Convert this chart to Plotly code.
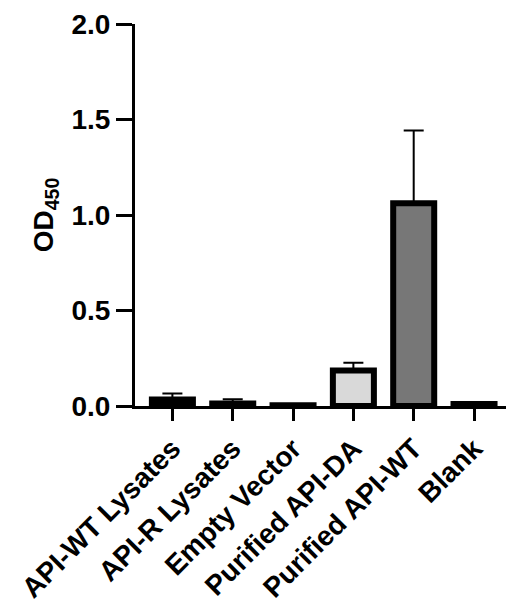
import plotly.graph_objects as go

categories = ["API-WT Lysates", "API-R Lysates", "Empty Vector",
              "Purified API-DA", "Purified API-WT", "Blank"]
od450_mean = [0.034, 0.013, 0.004, 0.186, 1.062, 0.010]
od450_err_up = [0.032, 0.022, 0.003, 0.040, 0.380, 0.002]
bar_colors = ["#000000", "#000000", "#000000", "#d9d9d9", "#777777", "#000000"]
y_tick_vals = [0.0, 0.5, 1.0, 1.5, 2.0]
y_tick_text = ["0.0", "0.5", "1.0", "1.5", "2.0"]

FONT = "Liberation Sans, Arial, Helvetica, sans-serif"

fig = go.Figure()
fig.add_trace(go.Bar(
    x=list(range(len(categories))),
    y=od450_mean,
    width=0.68,
    marker=dict(color=bar_colors, line=dict(color="black", width=6)),
    error_y=dict(type="data", symmetric=False, array=od450_err_up,
                 arrayminus=[0] * len(categories),
                 color="black", thickness=2, width=10),
    showlegend=False,
))

fig.update_layout(
    width=509, height=606,
    margin=dict(l=135, r=3, t=24, b=200),
    plot_bgcolor="white", paper_bgcolor="white",
    font=dict(family=FONT, size=28, color="black", weight="bold"),
)
fig.update_xaxes(
    range=[-0.62, 5.53], automargin=False,
    tickmode="array", tickvals=list(range(len(categories))), ticktext=categories,
    tickangle=-45,
    showline=True, linecolor="black", linewidth=3,
    ticks="outside", ticklen=12, tickwidth=3, tickcolor="black",
    showgrid=False, zeroline=False,
    tickfont=dict(family=FONT, size=28, color="black", weight="bold"),
)
fig.update_yaxes(
    range=[0, 2.0], automargin=False,
    tickmode="array", tickvals=y_tick_vals, ticktext=y_tick_text,
    showline=True, linecolor="black", linewidth=3,
    ticks="outside", ticklen=16, tickwidth=3, tickcolor="black",
    showgrid=False, zeroline=False,
    tickfont=dict(family=FONT, size=28, color="black", weight="bold"),
    title=dict(text="OD<sub>450</sub>", standoff=10,
               font=dict(family=FONT, size=28, color="black", weight="bold")),
)

fig.write_html("out.html",
               config={"displayModeBar": False},
               post_script="document.body.style.margin='0';document.body.style.overflow='hidden';")
